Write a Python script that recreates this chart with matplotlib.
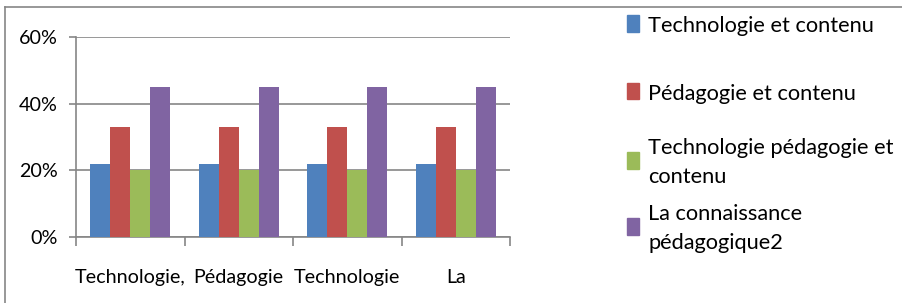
import matplotlib
matplotlib.use("Agg")
import matplotlib.pyplot as plt
from matplotlib.patches import Rectangle
from matplotlib.lines import Line2D
import numpy as np

categories = ["Technologie,", "Pédagogie", "Technologie", "La"]
series_names = ["Technologie et contenu", "Pédagogie et contenu",
                "Technologie pédagogie et\ncontenu", "La connaissance\npédagogique2"]
values = [
    [0.22, 0.22, 0.22, 0.22],
    [0.33, 0.33, 0.33, 0.33],
    [0.20, 0.20, 0.20, 0.20],
    [0.45, 0.45, 0.45, 0.45],
]
colors = ["#4F81BD", "#C0504D", "#9BBB59", "#8064A2"]
yticks = [0, 0.2, 0.4, 0.6]
ytick_labels = ["0%", "20%", "40%", "60%"]

FONT = ["Lato", "DejaVu Sans"]
plt.rcParams['font.family'] = FONT
FS = 15.7
FS_AX = 14.2

W, H = 902, 303
fig = plt.figure(figsize=(W/100, H/100), dpi=100)
ax = fig.add_axes([76/W, (H-236.7)/H, 434/W, 199.4/H])

x = np.arange(len(categories))
bw = 0.185
for i, (vals, c) in enumerate(zip(values, colors)):
    ax.bar(x + (i - 1.5) * bw, vals, width=bw, color=c, zorder=3)

ax.set_xlim(-0.5, len(categories) - 0.5)
ax.set_ylim(0, 0.6)
ax.set_yticks(yticks)
ax.set_yticklabels(ytick_labels, fontsize=FS_AX)
ax.yaxis.grid(True, color="#868686", linewidth=1.2, zorder=0)
ax.set_xticks(x)
ax.set_xticklabels(categories, fontsize=FS_AX)
ax.set_xticks(np.arange(-0.5, len(categories), 1.0), minor=True)
ax.tick_params(axis='x', which='major', length=0, pad=23)
ax.tick_params(axis='x', which='minor', length=6.7, color="#868686", width=1.2)
ax.tick_params(axis='y', length=5, color="#868686", width=1.2, pad=8)
for s in ["top", "right"]:
    ax.spines[s].set_visible(False)
for s in ["left", "bottom"]:
    ax.spines[s].set_color("#868686")
    ax.spines[s].set_linewidth(1.2)

# outer chart border
fig.add_artist(Line2D([5/W, 5/W], [0, 1 - 7/H], transform=fig.transFigure, color="#868686", lw=1.2))
fig.add_artist(Line2D([5/W, 1], [1 - 7/H, 1 - 7/H], transform=fig.transFigure, color="#868686", lw=1.2))

# legend
sq_y = [15, 83, 152, 218]
for name, c, y0 in zip(series_names, colors, sq_y):
    fig.add_artist(Rectangle((627/W, 1 - (y0 + 16.5)/H), 12.3/W, 16.5/H,
                             transform=fig.transFigure, color=c))
    fig.text(648/W, 1 - (y0 + 10.5)/H, name, fontsize=FS, va='center', ha='left',
             linespacing=1.55, transform=fig.transFigure)

fig.savefig("out.png", dpi=100)
